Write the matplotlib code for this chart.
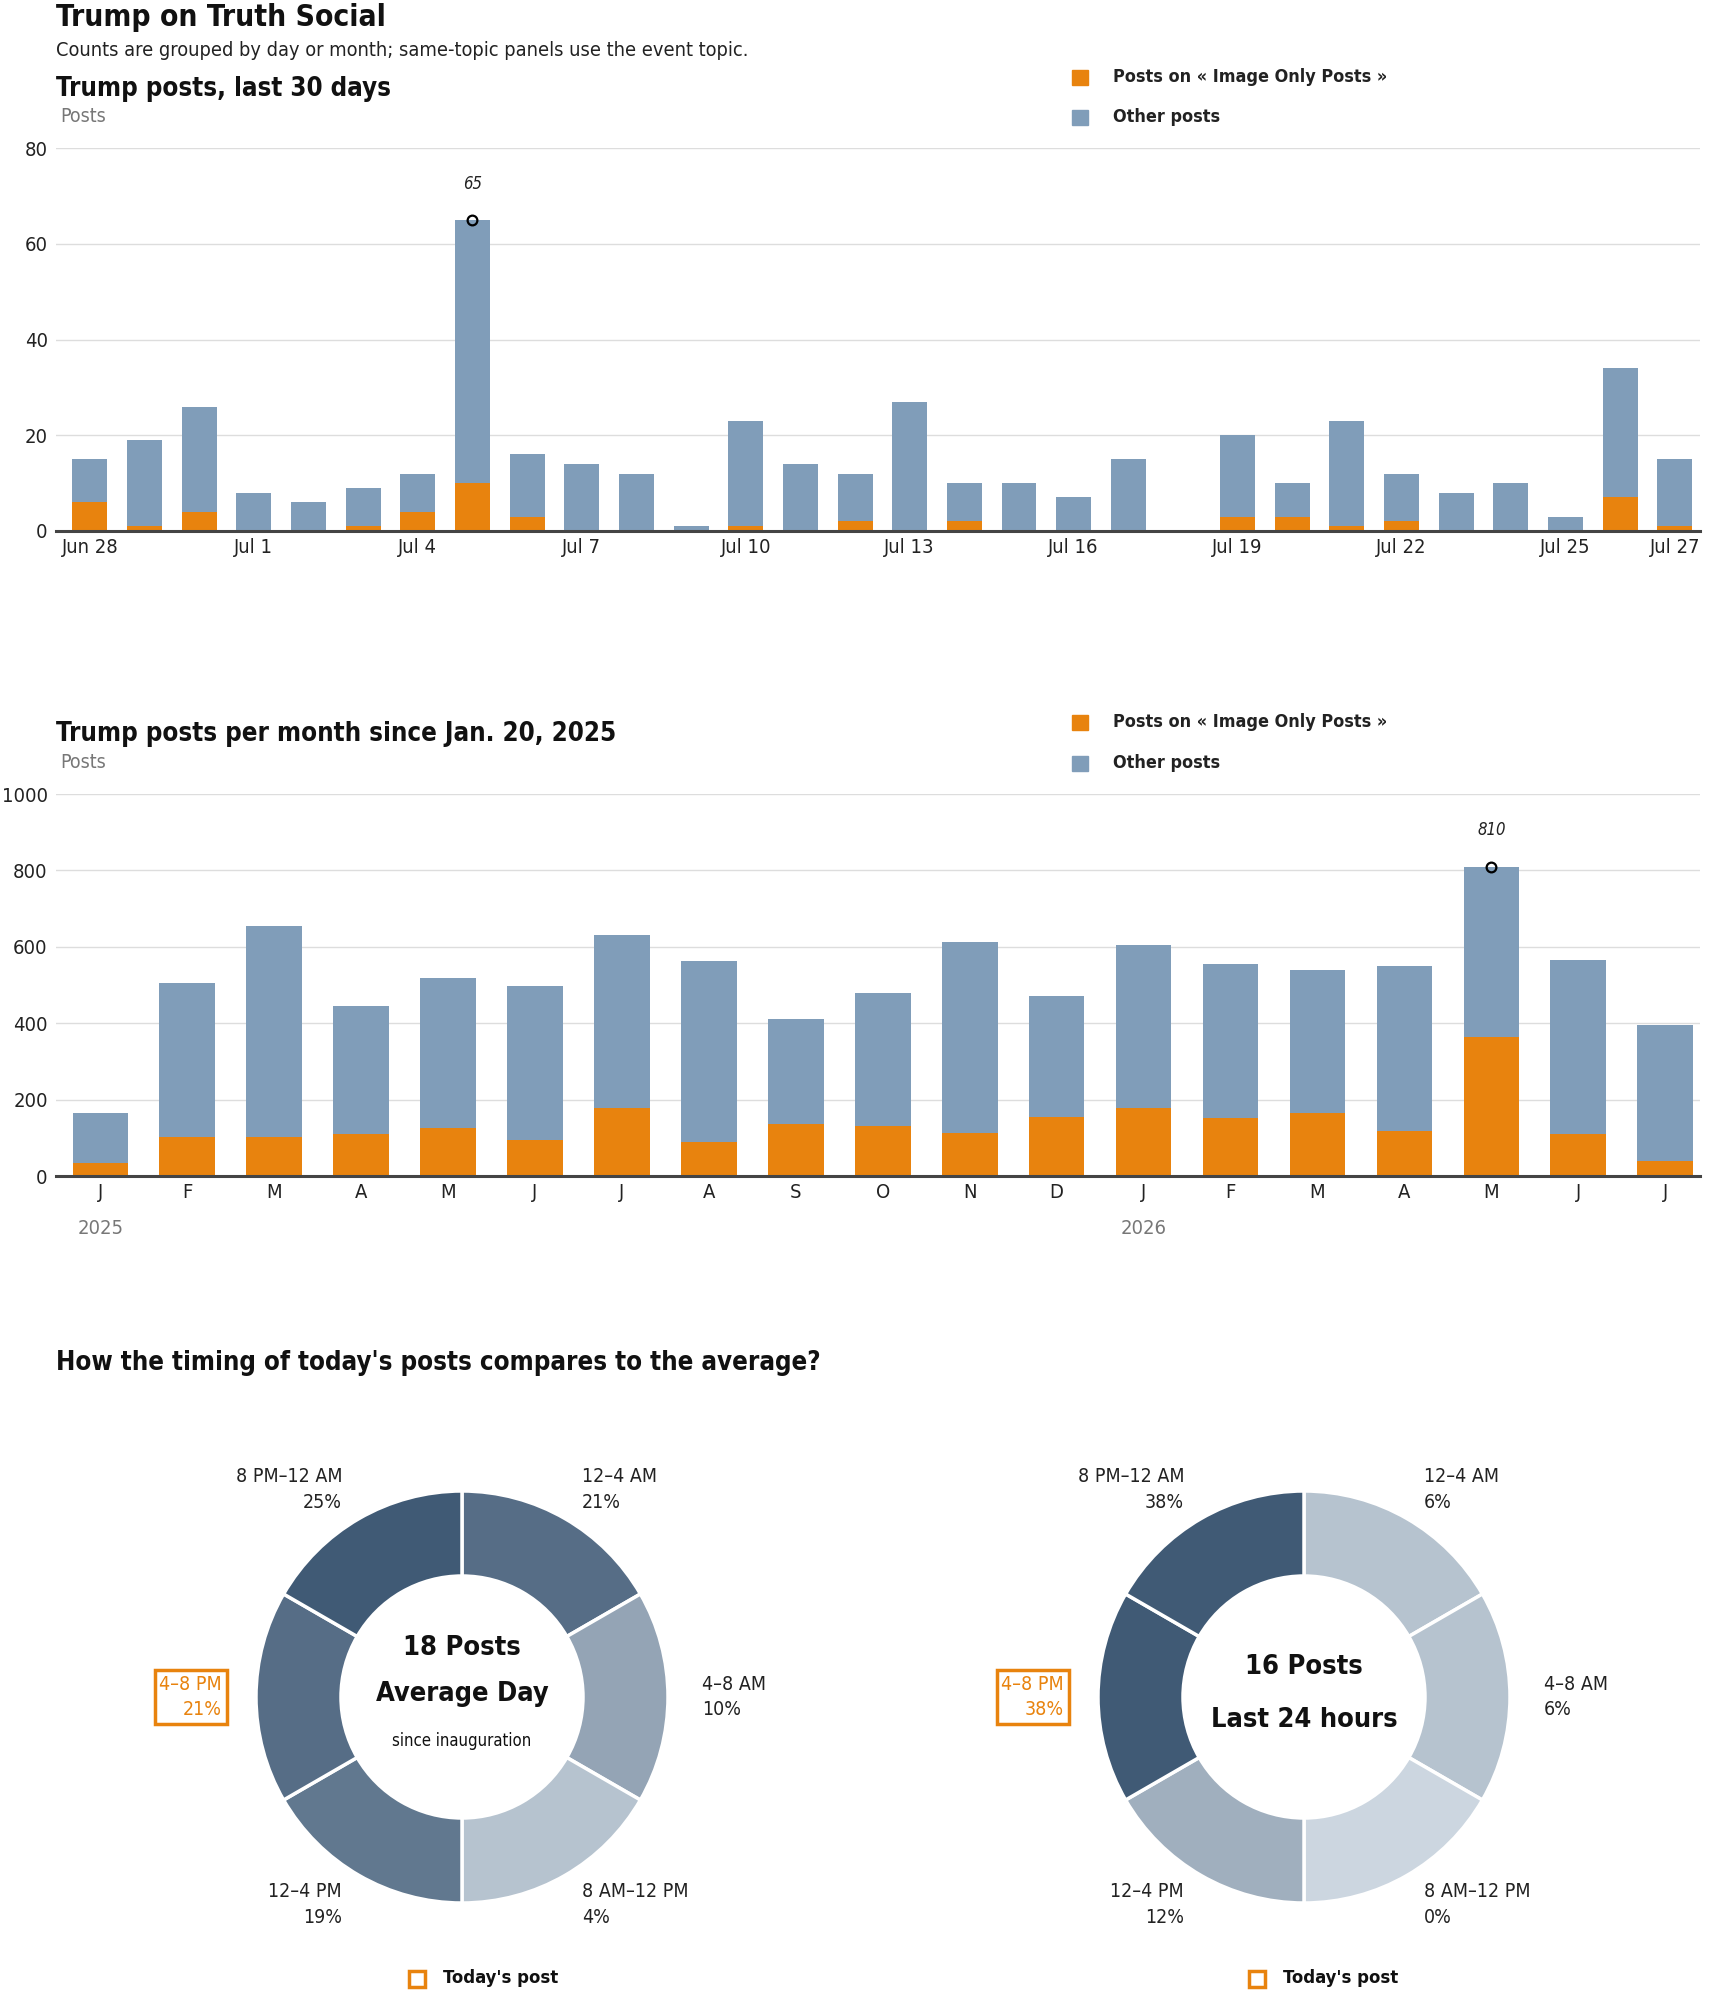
import numpy as np
import matplotlib
matplotlib.use('Agg')
import matplotlib.pyplot as plt
from matplotlib.patches import Rectangle
from matplotlib.colors import LinearSegmentedColormap
from matplotlib.transforms import blended_transform_factory

plt.rcParams['font.family'] = ['DejaVu Sans']
plt.rcParams['font.stretch'] = 'condensed'

W, H = 1710, 1993
ORANGE = '#e8830e'
BLUE = '#809db9'
GRID = '#dddddd'
TXT = '#222222'

# ---- daily data, last 30 days ----
day_labels = ['Jun 28', 'Jun 29', 'Jun 30', 'Jul 1', 'Jul 2', 'Jul 3', 'Jul 4', 'Jul 5',
              'Jul 6', 'Jul 7', 'Jul 8', 'Jul 9', 'Jul 10', 'Jul 11', 'Jul 12', 'Jul 13',
              'Jul 14', 'Jul 15', 'Jul 16', 'Jul 17', 'Jul 18', 'Jul 19', 'Jul 20', 'Jul 21',
              'Jul 22', 'Jul 23', 'Jul 24', 'Jul 25', 'Jul 26', 'Jul 27']
day_total = [15, 19, 26, 8, 6, 9, 12, 65, 16, 14, 12, 1, 23, 14, 12, 27,
             10, 10, 7, 15, 0, 20, 10, 23, 12, 8, 10, 3, 34, 15]
day_topic = [6, 1, 4, 0, 0, 1, 4, 10, 3, 0, 0, 0, 1, 0, 2, 0,
             2, 0, 0, 0, 0, 3, 3, 1, 2, 0, 0, 0, 7, 1]
day_ticks = ['Jun 28', 'Jul 1', 'Jul 4', 'Jul 7', 'Jul 10', 'Jul 13', 'Jul 16',
             'Jul 19', 'Jul 22', 'Jul 25', 'Jul 27']

# ---- monthly data since Jan 2025 ----
month_labels = ['J', 'F', 'M', 'A', 'M', 'J', 'J', 'A', 'S', 'O', 'N', 'D',
                'J', 'F', 'M', 'A', 'M', 'J', 'J']
month_years = {0: '2025', 12: '2026'}
month_total = [164, 504, 654, 446, 519, 498, 630, 562, 411, 478, 612, 472,
               606, 556, 538, 549, 810, 566, 396]
month_topic = [34, 102, 102, 110, 126, 93, 178, 89, 136, 130, 112, 154,
               178, 152, 165, 117, 364, 110, 38]

# ---- time of day ----
slots = ['12–4 AM', '4–8 AM', '8 AM–12 PM', '12–4 PM', '4–8 PM', '8 PM–12 AM']
avg_pct = [21, 10, 4, 19, 21, 25]
today_pct = [6, 6, 0, 12, 38, 38]
today_slot = '4–8 PM'


def fx(x):
    return x / W


def fy(y):
    return 1 - y / H


def add_ax(left, top, right, bottom):
    return fig.add_axes([fx(left), fy(bottom), (right - left) / W, (bottom - top) / H])


def legend(fig, y1, y2):
    for y, col, lab in [(y1, ORANGE, 'Posts on « Image Only Posts »'), (y2, BLUE, 'Other posts')]:
        fig.add_artist(Rectangle((fx(1072), fy(y + 8)), 16 / W, 15 / H,
                                 color=col, transform=fig.transFigure))
        fig.text(fx(1113), fy(y), lab, fontsize=12.9, fontweight='bold',
                 color=TXT, va='center')


def bar_chart(ax, labels, total, topic, ymax, yticks, ticklabels):
    x = np.arange(len(total))
    other = np.array(total) - np.array(topic)
    ax.bar(x, topic, width=0.64, color=ORANGE, zorder=2)
    ax.bar(x, other, bottom=topic, width=0.64, color=BLUE, zorder=2)
    ax.set_ylim(0, ymax)
    ax.set_yticks(yticks)
    ax.grid(axis='y', color=GRID, lw=1, zorder=0)
    for s in ['top', 'right', 'left']:
        ax.spines[s].set_visible(False)
    ax.spines['bottom'].set_color('#444444')
    ax.spines['bottom'].set_linewidth(2.2)
    ax.spines['bottom'].set_zorder(3)
    ax.tick_params(length=0, labelsize=14.5, colors=TXT)
    ax.tick_params(axis='y', pad=6)
    ax.tick_params(axis='x', pad=5)
    pos = [labels.index(t) if t in labels else None for t in ticklabels]
    ax.set_xticks([p for p in pos if p is not None])
    ax.set_xticklabels([t for t, p in zip(ticklabels, pos) if p is not None])
    imax = int(np.argmax(total))
    ax.plot(imax, total[imax], 'o', mfc='none', mec='black', ms=7, mew=1.6, zorder=4)
    ax.annotate(str(total[imax]), (imax, total[imax]), xytext=(0, 26),
                textcoords='offset points', ha='center', va='center',
                fontsize=12, style='italic', color=TXT)
    return x


fig = plt.figure(figsize=(W / 100, H / 100), dpi=100)

fig.text(fx(56), fy(17), 'Trump on Truth Social', fontsize=21.5, fontweight='bold',
         color='#111111', va='center')
fig.text(fx(56), fy(50), 'Counts are grouped by day or month; same-topic panels use the event topic.',
         fontsize=14.3, color=TXT, va='center')

# chart 1
fig.text(fx(56), fy(89), 'Trump posts, last 30 days', fontsize=18.5, fontweight='bold',
         color='#111111', va='center')
fig.text(fx(60), fy(117), 'Posts', fontsize=14, color='#777777', va='center')
legend(fig, 77, 117)
ax1 = add_ax(56, 148, 1700, 531)
bar_chart(ax1, day_labels, day_total, day_topic, 80, [0, 20, 40, 60, 80], day_ticks)
ax1.set_xlim(-0.62, len(day_total) - 0.54)

# chart 2
fig.text(fx(56), fy(734), 'Trump posts per month since Jan. 20, 2025', fontsize=18.5,
         fontweight='bold', color='#111111', va='center')
fig.text(fx(60), fy(763), 'Posts', fontsize=14, color='#777777', va='center')
legend(fig, 722, 763)
ax2 = add_ax(56, 794, 1700, 1176)
bar_chart(ax2, list(range(len(month_total))), month_total, month_topic, 1000,
          [0, 200, 400, 600, 800, 1000], list(range(len(month_total))))
ax2.set_xticklabels(month_labels)
ax2.set_xlim(-0.51, len(month_total) - 0.6)
tr = blended_transform_factory(ax2.transData, ax2.transAxes)
for i, yr in month_years.items():
    ax2.text(i, -53 / 382, yr, transform=tr, ha='center', va='center',
             fontsize=14.5, color='#777777')

# donuts
fig.text(fx(56), fy(1363), "How the timing of today's posts compares to the average?",
         fontsize=18.5, fontweight='bold', color='#111111', va='center')

cmap = LinearSegmentedColormap.from_list('slate', ['#ccd6e0', '#405a75'])
R = 206
half = 300


def donut(cx, cy, pct, lines):
    ax = add_ax(cx - half, cy - half, cx + half, cy + half)
    top = max(pct)
    cols = [cmap(p / top) for p in pct]
    ax.pie([1] * len(pct), colors=cols, startangle=90, counterclock=False, radius=1,
           wedgeprops=dict(width=(R - 121) / R, edgecolor='white', linewidth=2.5))
    ax.set_xlim(-half / R, half / R)
    ax.set_ylim(-half / R, half / R)
    ax.set_aspect('equal')
    ax.axis('off')
    for i, (s, p) in enumerate(zip(slots, pct)):
        th = np.deg2rad(60 - 60 * i)
        x, y = 1.165 * np.cos(th), 1.165 * np.sin(th)
        ha = 'left' if x > 0.01 else 'right'
        hl = s == today_slot
        kw = {}
        if hl:
            kw['bbox'] = dict(boxstyle='square,pad=0.25', fc='none', ec=ORANGE, lw=2.5)
        ax.text(x, y, f'{s}\n{p}%', ha=ha, va='center', multialignment=ha,
                fontsize=14, linespacing=1.45, color=ORANGE if hl else TXT, **kw)
    for txt, dy, size, weight in lines:
        ax.text(0, -dy / R, txt, ha='center', va='center', fontsize=size,
                fontweight=weight, color='#111111')
    return ax


donut(462, 1697, avg_pct, [('18 Posts', -49, 19.5, 'bold'), ('Average Day', -3, 19.5, 'bold'),
                           ('since inauguration', 44, 12, 'normal')])
donut(1304, 1697, today_pct, [('16 Posts', -30, 19.5, 'bold'), ('Last 24 hours', 23, 19.5, 'bold')])

for sx, tx in [(417, 443), (1257, 1283)]:
    fig.add_artist(Rectangle((fx(sx - 8), fy(1987)), 16 / W, 16 / H, fc='none',
                             ec=ORANGE, lw=2.5, transform=fig.transFigure))
    fig.text(fx(tx), fy(1978), "Today's post", fontsize=13.2, fontweight='bold',
             color='#111111', va='center')

fig.savefig('out.png', dpi=100, facecolor='white')
